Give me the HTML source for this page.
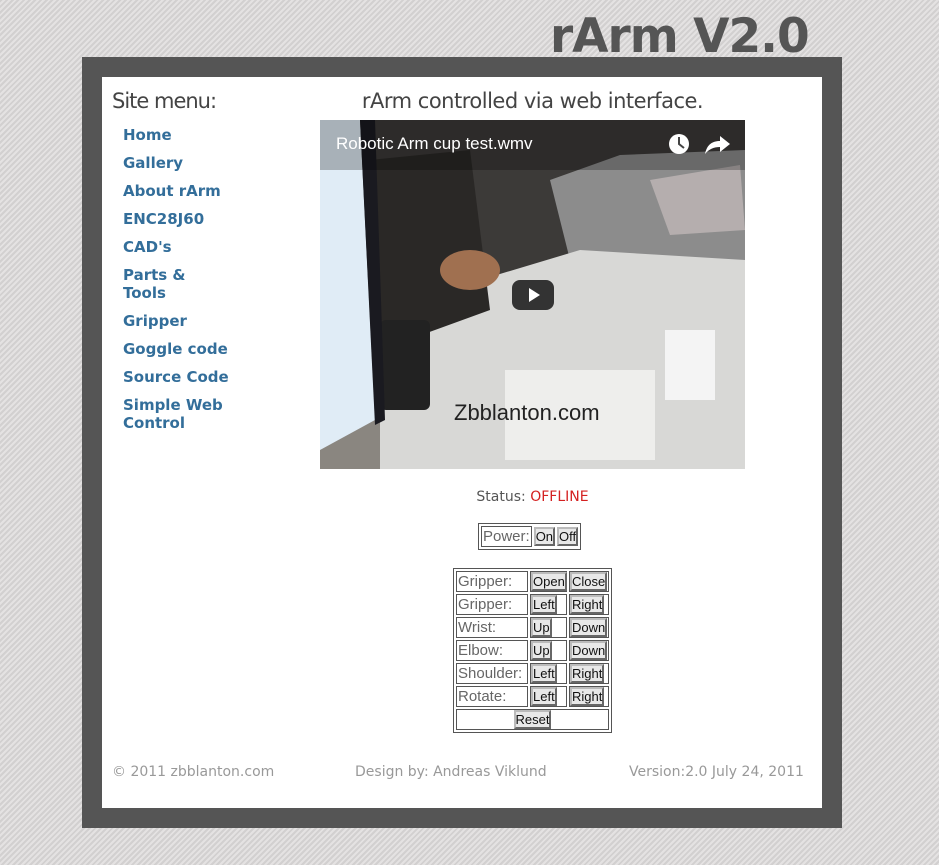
<!DOCTYPE html>
<html><head><meta charset="utf-8"><style>
*{margin:0;padding:0;box-sizing:border-box}
body{width:939px;height:865px;overflow:hidden;position:relative;font-family:"DejaVu Sans","Liberation Sans",sans-serif;
background:#dcdada repeating-linear-gradient(135deg,#d2d0d0 0 2px,#e4e2e2 2px 4px);}
.abs{position:absolute}
#title{left:550px;top:5px;font:bold 47px "DejaVu Sans","Liberation Sans",sans-serif;color:#555;letter-spacing:-1px;line-height:64px}
#frame{left:82px;top:57px;width:760px;height:771px;background:#555}
#content{left:102px;top:77px;width:720px;height:731px;background:#fff}
#menu-title{left:112px;top:89px;font-size:21px;color:#444;letter-spacing:-1px}
.nav{position:absolute;left:123px;font-weight:bold;font-size:15px;color:#336e9a;line-height:18px}
#heading{left:320px;top:89px;width:425px;text-align:center;font-size:21px;color:#444;letter-spacing:-0.5px}
#video{left:320px;top:120px;width:425px;height:349px;overflow:hidden}
#status{left:320px;top:489px;width:425px;text-align:center;font-size:14px;color:#555}
table{border-collapse:separate;border:1px solid #555;position:absolute;font-family:"Liberation Sans",sans-serif;font-size:15px;color:#666;table-layout:fixed}
td{border:1px solid #555;padding:0 1px;height:21px;white-space:nowrap}
button{font:13px "Liberation Sans",sans-serif;color:#111;background:#e8e8e8;border:2px outset #bbb;padding:0;height:19px;line-height:13px}
.foot{position:absolute;top:764px;font-size:14px;color:#999}
</style></head><body>
<div id="title" class="abs">rArm V2.0</div>
<div id="frame" class="abs"></div>
<div id="content" class="abs"></div>
<div id="menu-title" class="abs">Site menu:</div>
<a class="nav" style="top:126px">Home</a>
<a class="nav" style="top:154px">Gallery</a>
<a class="nav" style="top:182px">About rArm</a>
<a class="nav" style="top:210px">ENC28J60</a>
<a class="nav" style="top:238px">CAD's</a>
<a class="nav" style="top:266px">Parts &amp;<br>Tools</a>
<a class="nav" style="top:312px">Gripper</a>
<a class="nav" style="top:340px">Goggle code</a>
<a class="nav" style="top:368px">Source Code</a>
<a class="nav" style="top:396px">Simple Web<br>Control</a>
<div id="heading" class="abs">rArm controlled via web interface.</div>
<div id="video" class="abs">
<svg width="425" height="349" viewBox="0 0 425 349">
<rect width="425" height="349" fill="#8a8680"/>
<rect x="0" y="0" width="425" height="160" fill="#3c3a38"/>
<polygon points="230,60 300,35 425,30 425,150 250,140" fill="#8c8c8c"/>
<polygon points="330,60 420,45 425,110 350,115" fill="#b5aeae"/>
<polygon points="60,190 260,130 425,140 425,349 60,349" fill="#d8d8d6"/>
<polygon points="50,40 150,30 170,190 60,230" fill="#2a2826"/>
<rect x="60" y="200" width="50" height="90" fill="#222" rx="6"/>
<ellipse cx="150" cy="150" rx="30" ry="20" fill="#a07050"/>
<rect x="185" y="250" width="150" height="90" fill="#eeeeec"/>
<rect x="345" y="210" width="50" height="70" fill="#f4f4f4"/>
<polygon points="0,0 40,0 55,300 0,330" fill="#e0ecf6"/>
<polygon points="40,0 55,0 65,300 55,305" fill="#1a1a20"/>
<rect x="0" y="0" width="425" height="50" fill="#000" opacity="0.25"/>
<text x="16" y="29" font-family="Liberation Sans, sans-serif" font-size="17" fill="#fff">Robotic Arm cup test.wmv</text>
<circle cx="359" cy="24" r="10" fill="#fff"/>
<path d="M359,17 V24 L364,28" stroke="#444" stroke-width="2" fill="none"/>
<path d="M385,34 C387,24 393,21 400,21 V16 L410,24 L400,32 V27 C394,27 389,29 385,34Z" fill="#fff"/>
<rect x="192" y="160" width="42" height="30" rx="8" fill="#212121" opacity="0.9"/>
<polygon points="209,168 209,182 220,175" fill="#fff"/>
<text x="134" y="300" font-family="Liberation Sans, sans-serif" font-size="22" fill="#222">Zbblanton.com</text>
</svg></div>
<div id="status" class="abs">Status: <span style="color:#d42020">OFFLINE</span></div>
<table style="left:478px;top:523px;border-spacing:2px;table-layout:auto"><tr>
<td>Power:</td><td style="padding:0;border:none"><button>On</button></td><td style="padding:0;border:none"><button>Off</button></td></tr></table>
<table style="left:453px;top:568px;width:159px;border-spacing:2px">
<colgroup><col style="width:72px"><col style="width:37px"><col style="width:40px"></colgroup>
<tr><td>Gripper:</td><td style="padding:0"><button>Open</button></td><td style="padding:0"><button>Close</button></td></tr>
<tr><td>Gripper:</td><td style="padding:0"><button>Left</button></td><td style="padding:0"><button>Right</button></td></tr>
<tr><td>Wrist:</td><td style="padding:0"><button>Up</button></td><td style="padding:0"><button>Down</button></td></tr>
<tr><td>Elbow:</td><td style="padding:0"><button>Up</button></td><td style="padding:0"><button>Down</button></td></tr>
<tr><td>Shoulder:</td><td style="padding:0"><button>Left</button></td><td style="padding:0"><button>Right</button></td></tr>
<tr><td>Rotate:</td><td style="padding:0"><button>Left</button></td><td style="padding:0"><button>Right</button></td></tr>
<tr><td colspan="3" style="text-align:center"><button>Reset</button></td></tr>
</table>
<div class="foot" style="left:112px">© 2011 zbblanton.com</div>
<div class="foot" style="left:355px">Design by: Andreas Viklund</div>
<div class="foot" style="left:629px">Version:2.0 July 24, 2011</div>
</body></html>
